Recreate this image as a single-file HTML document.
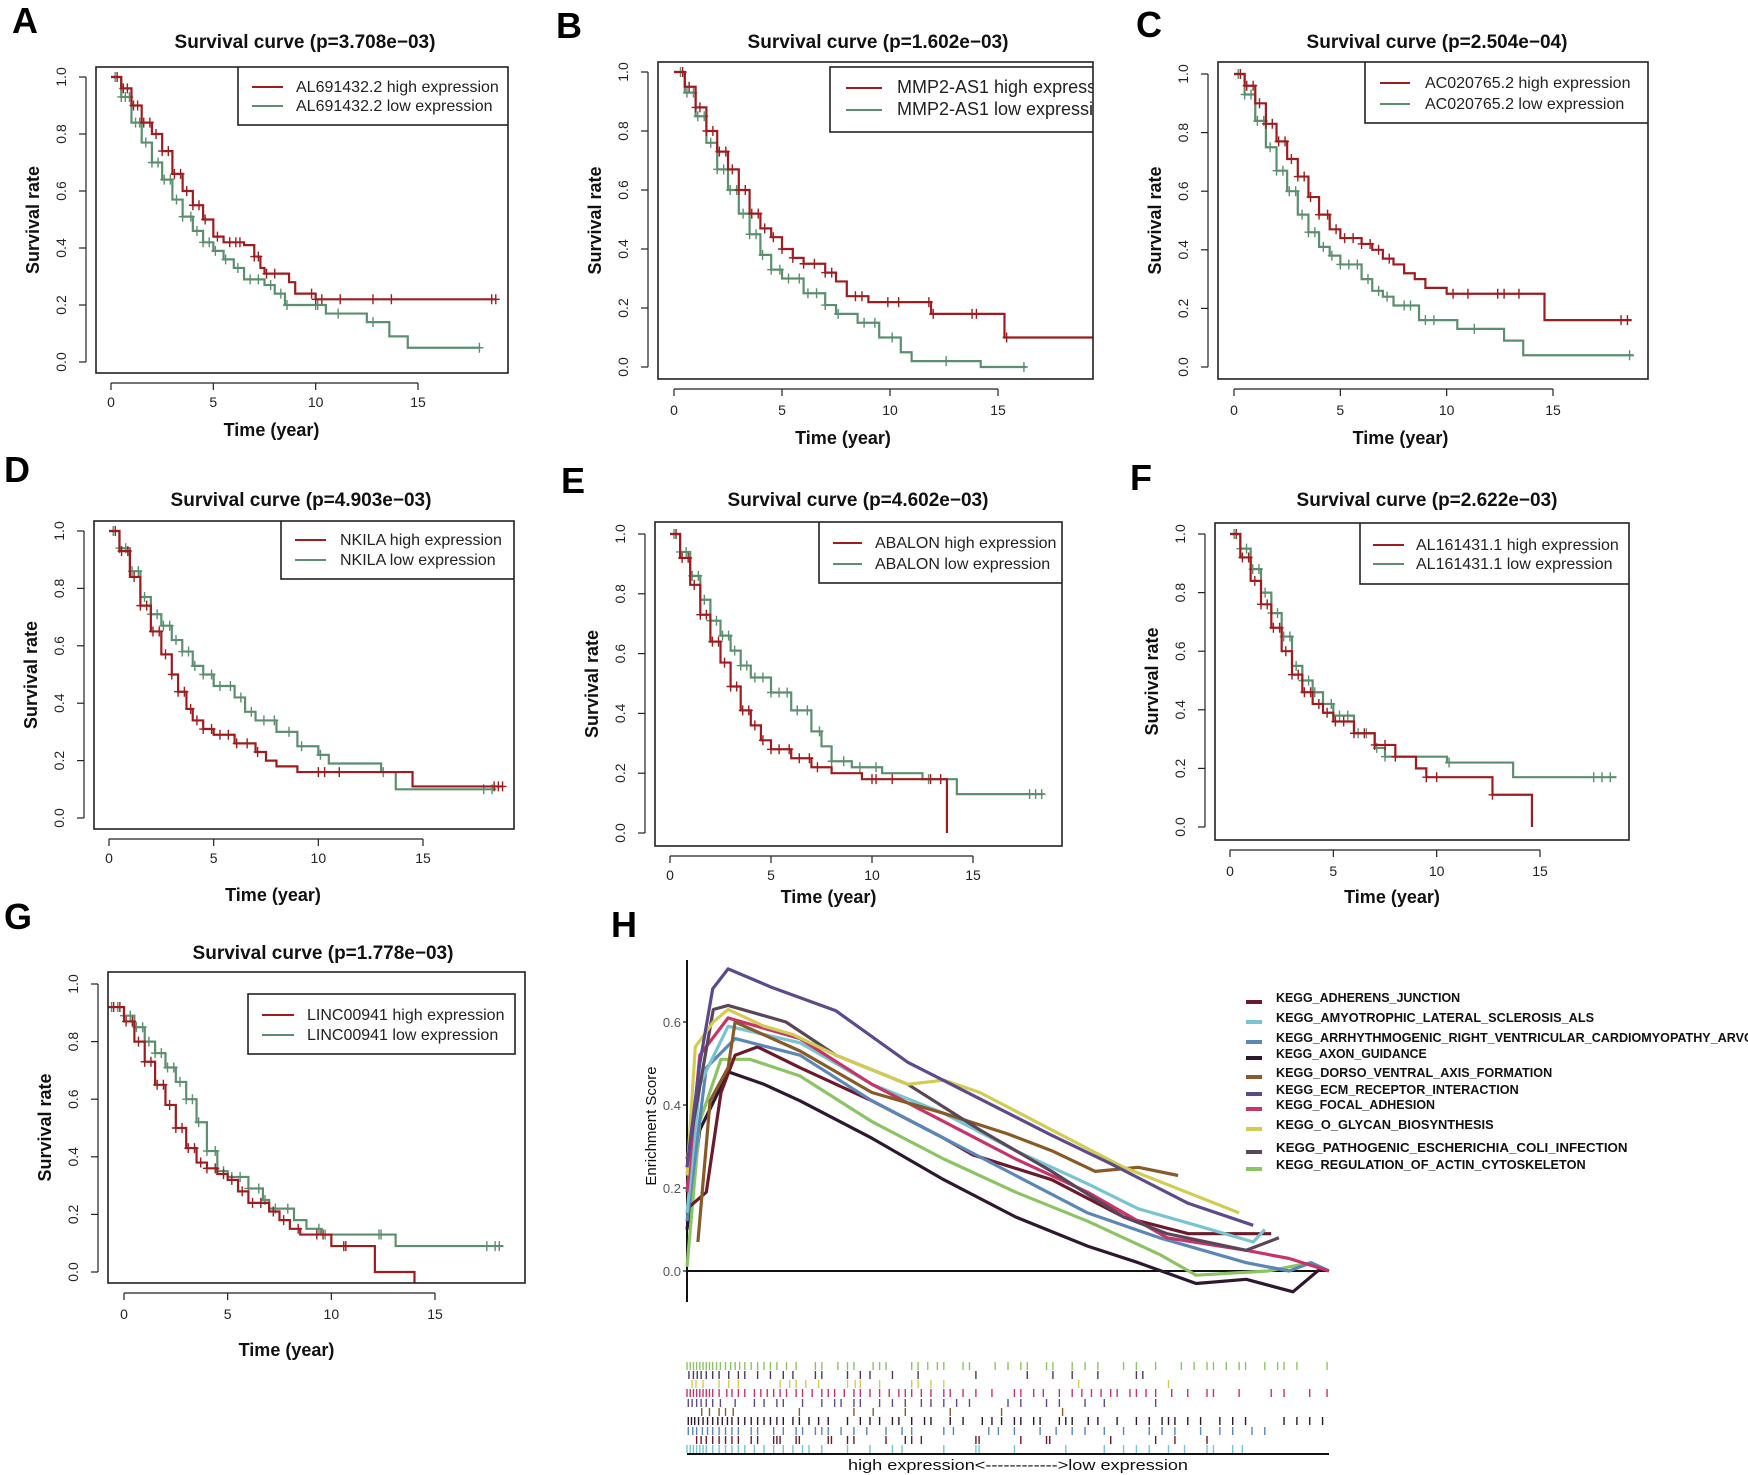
<!DOCTYPE html>
<html><head><meta charset="utf-8">
<style>
html,body{margin:0;padding:0;background:#fff;}
svg{display:block;font-family:"Liberation Sans",Arial,sans-serif;}
</style></head>
<body>
<svg id="fig" width="1748" height="1475" viewBox="0 0 1748 1475" xmlns="http://www.w3.org/2000/svg"></svg>
<script>
// ---------- Survival data (time in years, survival rate) ----------
const aHighT=[0,0.5,1,1.5,2,2.5,3,3.5,4,4.5,5,5.5,6.5,7,7.3,7.5,8.7,9,10,18.8];
const aHighS=[1,0.96,0.9,0.84,0.8,0.74,0.66,0.6,0.55,0.5,0.44,0.42,0.41,0.37,0.33,0.31,0.28,0.24,0.22,0.22];
const aLowT=[0,0.5,1,1.5,2,2.5,3,3.5,4,4.5,5,5.5,6,6.5,7.5,8,8.5,10.5,12.5,13.6,14.5,18];
const aLowS=[1,0.93,0.84,0.77,0.7,0.64,0.57,0.51,0.46,0.42,0.39,0.36,0.33,0.29,0.27,0.24,0.2,0.17,0.14,0.09,0.05,0.05];
const aHighC=[0.3,0.6,0.8,1.1,1.3,1.6,1.9,2.2,2.5,2.8,3.1,3.4,3.7,4,4.3,4.6,5.2,5.8,6.1,6.3,7,7.2,7.6,8,9.8,10,10.3,11.2,12.8,13.7,18.6,18.8];
const aLowC=[0.2,0.5,0.7,0.9,1.2,1.4,1.7,2,2.3,2.6,2.9,3.2,3.5,3.9,4.2,4.5,4.8,5.1,5.6,6.2,6.8,7.2,7.8,8.3,8.6,10,10.1,11.1,12.8,18];
const bHighT=[0,0.5,1,1.5,2,2.5,3,3.5,4,4.5,5,5.5,6,7,7.5,8,9,11.9,15.3,19.5];
const bHighS=[1,0.95,0.88,0.8,0.73,0.67,0.6,0.52,0.47,0.44,0.4,0.37,0.35,0.32,0.29,0.24,0.22,0.18,0.1,0.1];
const bLowT=[0,0.5,1,1.5,2,2.5,3,3.5,4,4.5,5,6,7,7.5,8.5,9.5,10.5,11,14.2,16.3];
const bLowS=[1,0.93,0.85,0.76,0.67,0.6,0.52,0.45,0.38,0.33,0.3,0.25,0.21,0.18,0.15,0.1,0.05,0.02,0,0];
const bHighC=[0.4,0.7,1,1.2,1.5,1.8,2.1,2.4,2.7,3,3.3,3.6,3.9,4.2,4.6,5,5.5,6,6.5,7,7.3,8.4,8.7,9.9,10.4,11.8,12,13.8,14,15.4];
const bLowC=[0.3,0.6,0.9,1.1,1.4,1.7,2,2.3,2.6,2.9,3.2,3.5,3.8,4.1,4.5,4.9,5.3,5.8,6.2,6.6,7,7.6,8.8,9.3,10.1,12.6,16.2];
const cHighT=[0,0.5,1,1.5,2,2.5,3,3.5,4,4.5,5,6,6.5,7,7.5,8,8.5,9,10,14.6,18.7];
const cHighS=[1,0.96,0.9,0.83,0.77,0.71,0.65,0.58,0.52,0.47,0.44,0.42,0.4,0.37,0.35,0.32,0.3,0.27,0.25,0.16,0.16];
const cLowT=[0,0.5,1,1.5,2,2.5,3,3.5,4,4.5,5,6,6.5,7,7.5,8.7,10.5,12.7,13.6,18.8];
const cLowS=[1,0.93,0.84,0.75,0.67,0.6,0.52,0.46,0.41,0.38,0.35,0.3,0.26,0.24,0.21,0.16,0.13,0.09,0.04,0.04];
const cHighC=[0.3,0.6,0.9,1.2,1.5,1.8,2.1,2.4,2.7,3,3.3,3.6,4,4.4,4.8,5.2,5.6,6,6.4,6.8,7.3,10.3,11,12.4,12.7,13.4,18.2,18.5];
const cLowC=[0.2,0.5,0.8,1.1,1.4,1.7,2,2.3,2.6,2.9,3.2,3.5,3.8,4.2,4.6,5,5.4,5.8,6.3,6.8,7.2,8,8.3,9,9.4,11.3,18.6];
const dHighT=[0,0.5,1,1.5,2,2.5,3,3.3,3.7,4,4.5,5,6,7,7.5,8,9,14.5,18.8];
const dHighS=[1,0.93,0.84,0.74,0.65,0.57,0.5,0.44,0.38,0.34,0.31,0.29,0.26,0.23,0.2,0.18,0.16,0.11,0.11];
const dLowT=[0,0.5,1,1.5,2,2.5,3,3.5,4,4.5,5,6,6.5,7,8,9,10,10.5,13,13.7,18.5];
const dLowS=[1,0.94,0.86,0.77,0.71,0.67,0.62,0.58,0.53,0.5,0.46,0.42,0.37,0.34,0.3,0.25,0.22,0.19,0.16,0.1,0.1];
const dHighC=[0.3,0.6,0.9,1.2,1.5,1.8,2.1,2.4,2.7,3,3.3,3.6,3.9,4.2,4.5,4.9,5.3,5.7,6.1,6.6,7.1,10,10.3,11,18.4,18.6,18.8];
const dLowC=[0.2,0.5,0.8,1.1,1.4,1.7,2,2.3,2.6,2.9,3.2,3.5,3.8,4.1,4.5,4.9,5.3,5.8,6.3,6.8,7.4,7.9,8.6,9.2,10.1,13.1,17.9,18.3];
const eHighT=[0,0.5,1,1.5,2,2.5,3,3.5,4,4.5,5,6,7,8,9.5,13.7,13.71];
const eHighS=[1,0.92,0.83,0.73,0.64,0.57,0.49,0.41,0.36,0.31,0.28,0.25,0.22,0.2,0.18,0.18,0];
const eLowT=[0,0.5,1,1.5,2,2.5,3,3.5,4,5,6,7,7.5,8,9,10.5,12.5,14.2,18.5];
const eLowS=[1,0.94,0.86,0.78,0.71,0.66,0.61,0.56,0.52,0.47,0.41,0.34,0.29,0.24,0.22,0.2,0.18,0.13,0.13];
const eHighC=[0.3,0.6,0.9,1.2,1.5,1.8,2.1,2.4,2.7,3,3.3,3.6,3.9,4.2,4.6,5,5.4,5.9,6.4,6.9,7.3,10,10.2,11,12.9,13.4];
const eLowC=[0.2,0.5,0.8,1.1,1.4,1.7,2,2.3,2.6,2.9,3.2,3.5,3.8,4.2,4.6,5,5.4,5.8,6.3,6.8,7.4,8,8.6,9.4,10.2,12.8,17.8,18.1,18.4];
const fHighT=[0,0.5,1,1.5,2,2.5,3,3.5,4,4.5,5,6,7,8,9,9.5,12.7,14.6,14.61];
const fHighS=[1,0.92,0.84,0.76,0.68,0.6,0.52,0.46,0.42,0.39,0.36,0.32,0.28,0.24,0.2,0.17,0.11,0.11,0];
const fLowT=[0,0.5,1,1.5,2,2.5,3,3.5,4,4.5,5,6,7,7.5,10.5,13.7,18.7];
const fLowS=[1,0.95,0.88,0.8,0.73,0.65,0.55,0.5,0.46,0.42,0.38,0.32,0.27,0.24,0.22,0.17,0.17];
const fHighC=[0.3,0.6,0.9,1.2,1.5,1.8,2.1,2.4,2.7,3,3.3,3.6,3.9,4.3,4.7,5.1,5.5,6,6.5,7,7.5,8,9.5,10,12.7];
const fLowC=[0.2,0.5,0.8,1.1,1.4,1.7,2,2.3,2.6,2.9,3.2,3.5,3.8,4.1,4.5,4.9,5.3,5.7,6.2,6.6,7.1,7.5,10.6,17.6,18,18.4];
const gHighT=[-0.75,0,0.5,1,1.5,2,2.5,3,3.5,4,4.5,5,5.5,6,7,7.5,8,8.5,10,12.1,14,14.01];
const gHighS=[0.92,0.87,0.8,0.73,0.65,0.58,0.5,0.43,0.38,0.36,0.34,0.32,0.28,0.24,0.21,0.18,0.15,0.13,0.09,0,0,-0.04];
const gLowT=[-0.75,0,0.5,1,1.5,2,2.5,3,3.5,4,4.5,5,6,6.7,7,8.2,8.8,9.5,13.1,18.3];
const gLowS=[0.92,0.89,0.85,0.8,0.76,0.71,0.66,0.6,0.52,0.42,0.35,0.33,0.29,0.25,0.22,0.18,0.15,0.13,0.09,0.09];
const gHighC=[-0.5,-0.2,0.1,0.4,0.7,1,1.3,1.6,1.9,2.2,2.5,2.8,3.1,3.4,3.7,4,4.4,4.8,5.2,5.7,6.2,6.6,7.2,7.7,8.4,9.3,9.6,10.6,10.7];
const gLowC=[-0.6,-0.3,0,0.3,0.6,0.9,1.2,1.5,1.8,2.1,2.4,2.7,3,3.3,3.6,4,4.4,4.8,5.2,5.6,6,6.5,6.8,7.3,7.9,9.4,9.7,12.3,12.4,17.5,17.9,18.1];
const xTicks=[0,5,10,15];
const yTicks=[0,0.2,0.4,0.6,0.8,1.0];
const yTickLabels=["0.0","0.2","0.4","0.6","0.8","1.0"];

// ---------- GSEA data ----------
const gseaNames=["KEGG_ADHERENS_JUNCTION","KEGG_AMYOTROPHIC_LATERAL_SCLEROSIS_ALS","KEGG_ARRHYTHMOGENIC_RIGHT_VENTRICULAR_CARDIOMYOPATHY_ARVC","KEGG_AXON_GUIDANCE","KEGG_DORSO_VENTRAL_AXIS_FORMATION","KEGG_ECM_RECEPTOR_INTERACTION","KEGG_FOCAL_ADHESION","KEGG_O_GLYCAN_BIOSYNTHESIS","KEGG_PATHOGENIC_ESCHERICHIA_COLI_INFECTION","KEGG_REGULATION_OF_ACTIN_CYTOSKELETON"];
const gseaColors=["#6b1a2c","#78c4d2","#5a86b8","#2e1830","#875a28","#5c4a8c","#c8346a","#d2cc52","#5a4658","#8cc464"];
const esAdherensX=[0,0.03,0.053,0.075,0.11,0.176,0.288,0.4,0.445,0.568,0.68,0.781,0.86,0.91];
const esAdherensY=[0.15,0.19,0.43,0.52,0.54,0.49,0.41,0.32,0.28,0.22,0.13,0.09,0.09,0.09];
const esAlsX=[0,0.02,0.064,0.176,0.288,0.4,0.512,0.624,0.703,0.793,0.882,0.9];
const esAlsY=[0.14,0.45,0.59,0.55,0.45,0.38,0.29,0.21,0.15,0.11,0.07,0.1];
const esArvcX=[0,0.03,0.075,0.176,0.288,0.4,0.512,0.624,0.736,0.871,0.938,0.972,1];
const esArvcY=[0.12,0.49,0.56,0.52,0.41,0.32,0.23,0.14,0.08,0.02,0,0.02,0];
const esAxonX=[0,0.02,0.064,0.12,0.176,0.288,0.4,0.512,0.624,0.703,0.793,0.871,0.944,0.99];
const esAxonY=[0.1,0.34,0.48,0.45,0.41,0.32,0.22,0.13,0.06,0.02,-0.03,-0.02,-0.05,0.01];
const esDorsoX=[0.017,0.036,0.064,0.075,0.176,0.288,0.4,0.5,0.568,0.636,0.703,0.765];
const esDorsoY=[0.07,0.41,0.49,0.6,0.53,0.43,0.38,0.33,0.29,0.24,0.25,0.23];
const esEcmX=[0,0.02,0.04,0.064,0.131,0.232,0.344,0.456,0.568,0.658,0.781,0.882];
const esEcmY=[0.25,0.5,0.68,0.728,0.684,0.627,0.503,0.415,0.327,0.26,0.163,0.11];
const esFocalX=[0,0.02,0.064,0.176,0.288,0.4,0.512,0.624,0.748,0.871,0.938,1];
const esFocalY=[0.19,0.52,0.61,0.56,0.45,0.36,0.27,0.19,0.08,0.05,0.03,0];
const esGlycanX=[0,0.013,0.041,0.064,0.12,0.165,0.232,0.344,0.4,0.456,0.568,0.68,0.86];
const esGlycanY=[0.23,0.54,0.6,0.63,0.59,0.57,0.52,0.45,0.46,0.43,0.34,0.25,0.14];
const esColiX=[0,0.041,0.064,0.154,0.232,0.344,0.456,0.568,0.68,0.748,0.871,0.922];
const esColiY=[0.27,0.63,0.64,0.6,0.52,0.45,0.34,0.24,0.13,0.09,0.05,0.08];
const esActinX=[0,0.02,0.053,0.098,0.176,0.288,0.4,0.512,0.624,0.736,0.793,0.905,0.972,1];
const esActinY=[0.01,0.36,0.51,0.51,0.47,0.36,0.27,0.19,0.12,0.04,-0.01,0,0.02,0];
const esTicks=[0,0.2,0.4,0.6];
const esTickLabels=["0.0","0.2","0.4","0.6"];
// rug hit positions (rank percent, 0-100), rows top to bottom
const rugGreen=[0,0.5,1,1.5,2,2.5,3,3.5,4,4.6,5.2,6,6.8,7.5,8.2,9,10,11,12,13,14,15.5,17,20,21,23.5,25,26,29,30,31,35,36,37.5,39,40,43,44,48,50,52,53,56,57,60,62,64,68,70,73,77,79,81,82,84,86,87,90,92,93,95,99.7];
const rugDark=[0.3,1,1.6,2.2,3,4,5,6.5,8,9,11,13,15,16.5,20,21,25,27,28.5,32,36,45,53,57,60,64,70,71];
const rugYellow=[0.8,1.4,2.5,5,6.5,8,14.5,16,17,18.5,20.5,25,26.2,27,30,35,36,38,40,61,75];
const rugMagenta=[0,0.5,1,1.5,2,2.5,3,3.5,4,5,6.2,7,8,9,10.5,11.5,12.5,13.5,14.5,15.5,17,18,19.5,21,22,23,24.5,26,27,28.5,30,31.5,33,34,35,36.5,38,40,41,43,45,47.5,51,52,54,55.5,58,60,61.5,63,64.5,66,67,69,70,71.5,73,75.5,78,81,82,86,91,93,97,99.7];
const rugPurple=[0.2,0.8,1.5,2.2,3,4,5.2,7.5,10.5,12,14,15,18,21,23,24,26,27,30,32,34,36.5,38,40,42,44,50,52,56,58,62,65,73];
const rugBrown=[2.3,3.5,5,6,7.2,17.5,26,29,34,41,49,58.5];
const rugBlack=[0.2,0.7,1.2,1.8,2.5,3.2,4,4.8,5.5,6.3,7,8,9,10,11,12,13,14,15,16.5,17.5,19,20.5,22,25,27,28.5,30,32,33,35,37,38,41,43,46,47.5,49,51,52,54,55,58,59,60,62.5,64,67,70,72,74,75,76,78,80,83,85,87,93,95,97,99];
const rugBlue=[0.2,0.9,1.5,2.4,3.2,4,5,6,7,8,10,11,13.5,15,17,18,20,21,22,24,26,28,31,33.5,35,40,41.5,47,48.5,51,55,57.5,60,62,65,68,72,74,76,80,83,85,88,90];
const rugMaroon=[1.5,2.2,3,4,5,6,7,8,10,11,13.5,14,14.5,17,17.5,22,22.5,25,26,31,34,35,36.5,45,45.5,52,56,56.5,66,73,76,81];
const rugCyan=[0,0.5,1,1.5,2,2.5,3,4,5,6,7,8,9,10.5,12,13.5,15,16.5,18,19,21,25,28.5,32,33.5,40,45,45.5,51,59,65,68,70,72,75,77.5,81,82,85,86.5];

const NS="http://www.w3.org/2000/svg";
const svg=document.getElementById('fig');
function mk(tag,attrs,parent){const e=document.createElementNS(NS,tag);for(const k in attrs)e.setAttribute(k,attrs[k]);(parent||svg).appendChild(e);return e;}
function txt(s,attrs,parent){const e=mk('text',attrs,parent);e.textContent=s;return e;}

const RED="#9e1c1f", GREEN="#5c8f6f";

function drawKM(p){
  const g=mk('g',{});
  
  
  const [L,T,R,B]=p.box;
  const xs=t=>p.x0+(p.x15-p.x0)*t/15;
  const ys=s=>p.y0+(p.y1-p.y0)*s;
  const lt=txt(p.letter,{x:p.lx,y:p.ly,'font-size':36,'font-weight':'bold',fill:'#000'},g);
  
  
  const tt=txt('Survival curve (p='+p.p+')',{x:p.tx,y:p.ty,'font-size':19,'font-weight':'bold','text-anchor':'middle',fill:'#111'},g);
  
  
  const clipId='clip'+p.letter;
  const cp=mk('clipPath',{id:clipId},g);
  mk('rect',{x:L,y:T,width:R-L,height:B-T},cp);
  const plot=mk('g',{'clip-path':'url(#'+clipId+')'},g);
  function curve(T_,S_,C_,col,name){
    let d='M'+xs(T_[0])+' '+ys(S_[0]);
    for(let i=1;i<T_.length;i++){d+=' H'+xs(T_[i])+' V'+ys(S_[i]);}
    const path=mk('path',{d:d,fill:'none',stroke:col,'stroke-width':2.2},plot);
    
    
    C_.forEach(c=>{
      let s=S_[0];for(let i=0;i<T_.length;i++){if(T_[i]<=c)s=S_[i];}
      const x=xs(c),y=ys(s);
      const m=mk('path',{d:`M${x-4} ${y}H${x+4}M${x} ${y-5}V${y+5}`,stroke:col,'stroke-width':1.4,fill:'none'},plot);
      
      
    });
  }
  curve(p.lowT,p.lowS,p.lowC,GREEN,'low-expression');
  curve(p.highT,p.highS,p.highC,RED,'high-expression');
  const box=mk('rect',{x:L,y:T,width:R-L,height:B-T,fill:'none',stroke:'#222','stroke-width':1.6},g);
  
  
  const ax=L-10;
  const ya=mk('g',{},g);
  
  
  mk('line',{x1:ax,x2:ax,y1:ys(0),y2:ys(1),stroke:'#222','stroke-width':1.2},ya);
  yTicks.forEach((v,i)=>{
    mk('line',{x1:ax-7,x2:ax,y1:ys(v),y2:ys(v),stroke:'#222','stroke-width':1.2},ya);
    const yl=txt(yTickLabels[i],{x:L-30,y:ys(v),'font-size':14,'text-anchor':'middle',transform:`rotate(-90 ${L-30} ${ys(v)})`,fill:'#222'},ya);
    
    
  });
  const yt=txt('Survival rate',{x:L-57,y:(T+B)/2,'font-size':18,'font-weight':'bold','text-anchor':'middle',transform:`rotate(-90 ${L-57} ${(T+B)/2})`,fill:'#111'},g);
  
  
  const xa=mk('g',{},g);
  
  
  const ay=B+10;
  mk('line',{x1:xs(0),x2:xs(15),y1:ay,y2:ay,stroke:'#222','stroke-width':1.2},xa);
  xTicks.forEach(v=>{
    mk('line',{x1:xs(v),x2:xs(v),y1:ay,y2:ay+7,stroke:'#222','stroke-width':1.2},xa);
    const xl=txt(String(v),{x:xs(v),y:p.tly+5,'font-size':14,'text-anchor':'middle',fill:'#222'},xa);
    
    
  });
  const xt=txt('Time (year)',{x:(xs(0)+xs(15))/2+7,y:p.xly+6,'font-size':18,'font-weight':'bold','text-anchor':'middle',fill:'#111'},g);
  
  
  const lg=mk('g',{'clip-path':'url(#'+clipId+')'},g);
  
  
  const [lx1,ly1,lx2,ly2]=p.leg;
  mk('rect',{x:lx1,y:ly1,width:lx2-lx1,height:ly2-ly1,fill:'#fff',stroke:'#222','stroke-width':1.6},lg);
  [[RED,p.gene+' high expression',p.lr[0]],[GREEN,p.gene+' low expression',p.lr[1]]].forEach(([c,s,y])=>{
    mk('line',{x1:p.ll[0],x2:p.ll[1],y1:y,y2:y,stroke:c,'stroke-width':2},lg);
    const e=txt(s,{x:p.ltx,y:y+5,'font-size':p.lfs||16,fill:'#222'},lg);
    
    
  });
}

drawKM({letter:'A',p:'3.708e\u221203',gene:'AL691432.2',box:[96,67,508,373],x0:111,x15:418,y1:77,y0:362,leg:[238,67,508,125],ll:[252,283],ltx:296,lr:[87,106],tx:305,ty:48,lx:12,ly:33,tly:402,xly:430,
  highT:aHighT,highS:aHighS,highC:aHighC,lowT:aLowT,lowS:aLowS,lowC:aLowC});
drawKM({letter:'B',p:'1.602e\u221203',gene:'MMP2-AS1',box:[658,62,1093,379],x0:674,x15:998,y1:72,y0:367,leg:[830,67,1093,132],ll:[846,882],ltx:897,lr:[88,110],lfs:18,tx:878,ty:48,lx:556,ly:38,tly:410,xly:438,
  highT:bHighT,highS:bHighS,highC:bHighC,lowT:bLowT,lowS:bLowS,lowC:bLowC});
drawKM({letter:'C',p:'2.504e\u221204',gene:'AC020765.2',box:[1218,62,1648,379],x0:1234,x15:1553,y1:74,y0:367,leg:[1365,62,1648,123],ll:[1380,1410],ltx:1425,lr:[83,104],tx:1437,ty:48,lx:1136,ly:37,tly:410,xly:438,
  highT:cHighT,highS:cHighS,highC:cHighC,lowT:cLowT,lowS:cLowS,lowC:cLowC});
drawKM({letter:'D',p:'4.903e\u221203',gene:'NKILA',box:[94,521,514,829],x0:109,x15:423,y1:531,y0:818,leg:[281,521,514,579],ll:[295,326],ltx:340,lr:[540,560],tx:301,ty:506,lx:4,ly:482,tly:858,xly:895,
  highT:dHighT,highS:dHighS,highC:dHighC,lowT:dLowT,lowS:dLowS,lowC:dLowC});
drawKM({letter:'E',p:'4.602e\u221203',gene:'ABALON',box:[655,522,1062,846],x0:670,x15:973,y1:534,y0:833,leg:[819,522,1062,583],ll:[833,862],ltx:875,lr:[543,564],tx:858,ty:506,lx:561,ly:493,tly:875,xly:897,
  highT:eHighT,highS:eHighS,highC:eHighC,lowT:eLowT,lowS:eLowS,lowC:eLowC});
drawKM({letter:'F',p:'2.622e\u221203',gene:'AL161431.1',box:[1215,523,1629,840],x0:1230,x15:1540,y1:534,y0:827,leg:[1360,523,1629,584],ll:[1373,1404],ltx:1416,lr:[545,564],tx:1427,ty:506,lx:1130,ly:490,tly:871,xly:897,
  highT:fHighT,highS:fHighS,highC:fHighC,lowT:fLowT,lowS:fLowS,lowC:fLowC});
drawKM({letter:'G',p:'1.778e\u221203',gene:'LINC00941',box:[108,972,525,1283],x0:124,x15:435,y1:984,y0:1272,leg:[248,994,515,1054],ll:[262,294],ltx:307,lr:[1015,1035],tx:323,ty:959,lx:4,ly:929,tly:1314,xly:1350,
  highT:gHighT,highS:gHighS,highC:gHighC,lowT:gLowT,lowS:gLowS,lowC:gLowC});

// ---------- GSEA panel ----------
(function(){
  const g=mk('g',{});
  
  
  const X0=687,X1=1329;
  const xs=f=>X0+(X1-X0)*f;
  const ys=v=>1271-(1271-1022)*v/0.6;
  const lt=txt('H',{x:611,y:937,'font-size':36,'font-weight':'bold',fill:'#000'},g);
  
  
  const ya=mk('g',{},g);
  
  
  mk('line',{x1:X0,x2:X0,y1:960,y2:1302,stroke:'#111','stroke-width':2},ya);
  esTicks.forEach((v,i)=>{
    mk('line',{x1:X0-4,x2:X0,y1:ys(v),y2:ys(v),stroke:'#111','stroke-width':1.2},ya);
    const l=txt(esTickLabels[i],{x:X0-6,y:ys(v)+5,'font-size':13,'text-anchor':'end',fill:'#555'},ya);
    
    
  });
  const yt=txt('Enrichment Score',{x:656,y:1126,'font-size':15,'text-anchor':'middle',transform:'rotate(-90 656 1126)',fill:'#111'},g);
  
  
  const zl=mk('line',{x1:X0,x2:X1,y1:ys(0),y2:ys(0),stroke:'#111','stroke-width':2},g);
  
  
  const series=[[esAdherensX,esAdherensY],[esAlsX,esAlsY],[esArvcX,esArvcY],[esAxonX,esAxonY],[esDorsoX,esDorsoY],[esEcmX,esEcmY],[esFocalX,esFocalY],[esGlycanX,esGlycanY],[esColiX,esColiY],[esActinX,esActinY]];
  const order=[3,9,0,2,1,6,4,8,7,5];
  order.forEach(i=>{
    const [X,Y]=series[i];
    const pts=X.map((x,k)=>xs(x).toFixed(1)+','+ys(Y[k]).toFixed(1)).join(' ');
    const pl=mk('polyline',{points:pts,fill:'none',stroke:gseaColors[i],'stroke-width':3.2,'stroke-linejoin':'round'},g);
    
    
  });
  const lgY=[997,1017,1037,1053,1072,1089,1104,1124,1147,1164];
  const lg=mk('g',{},g);
  
  
  gseaNames.forEach((n,i)=>{
    mk('rect',{x:1246,y:lgY[i]+3,width:16,height:4,fill:gseaColors[i]},lg);
    const e=txt(n,{x:1276,y:lgY[i]+5,'font-size':12.5,'font-weight':'bold',fill:'#111',textLength:n.length*8.37,lengthAdjust:'spacingAndGlyphs'},lg);
    
    
  });
  const rugs=[rugGreen,rugDark,rugYellow,rugMagenta,rugPurple,rugBrown,rugBlack,rugBlue,rugMaroon,rugCyan];
  const rugCols=["#8cc464","#4a3a58","#d2cc52","#c8346a","#5c4a8c","#875a28","#2e1830","#5a86b8","#6b1a2c","#78c4d2"];
  const rugTop=[1362,1371,1380,1389,1399,1408,1417,1427,1436,1445];
  const rg=mk('g',{},g);
  
  
  rugs.forEach((arr,r)=>{
    arr.forEach(v=>{
      const x=xs(v/100);
      const h=mk('line',{x1:x,x2:x,y1:rugTop[r],y2:rugTop[r]+8,stroke:rugCols[r],'stroke-width':1.4},rg);
      
      
    });
  });
  mk('line',{x1:X0,x2:X1,y1:1454,y2:1454,stroke:'#111','stroke-width':2},g);
  const xt=txt('high expression<------------>low expression',{x:1018,y:1470,'font-size':15,'text-anchor':'middle',fill:'#111',textLength:340,lengthAdjust:'spacingAndGlyphs'},g);
  
  
})();
</script>
</body></html>
